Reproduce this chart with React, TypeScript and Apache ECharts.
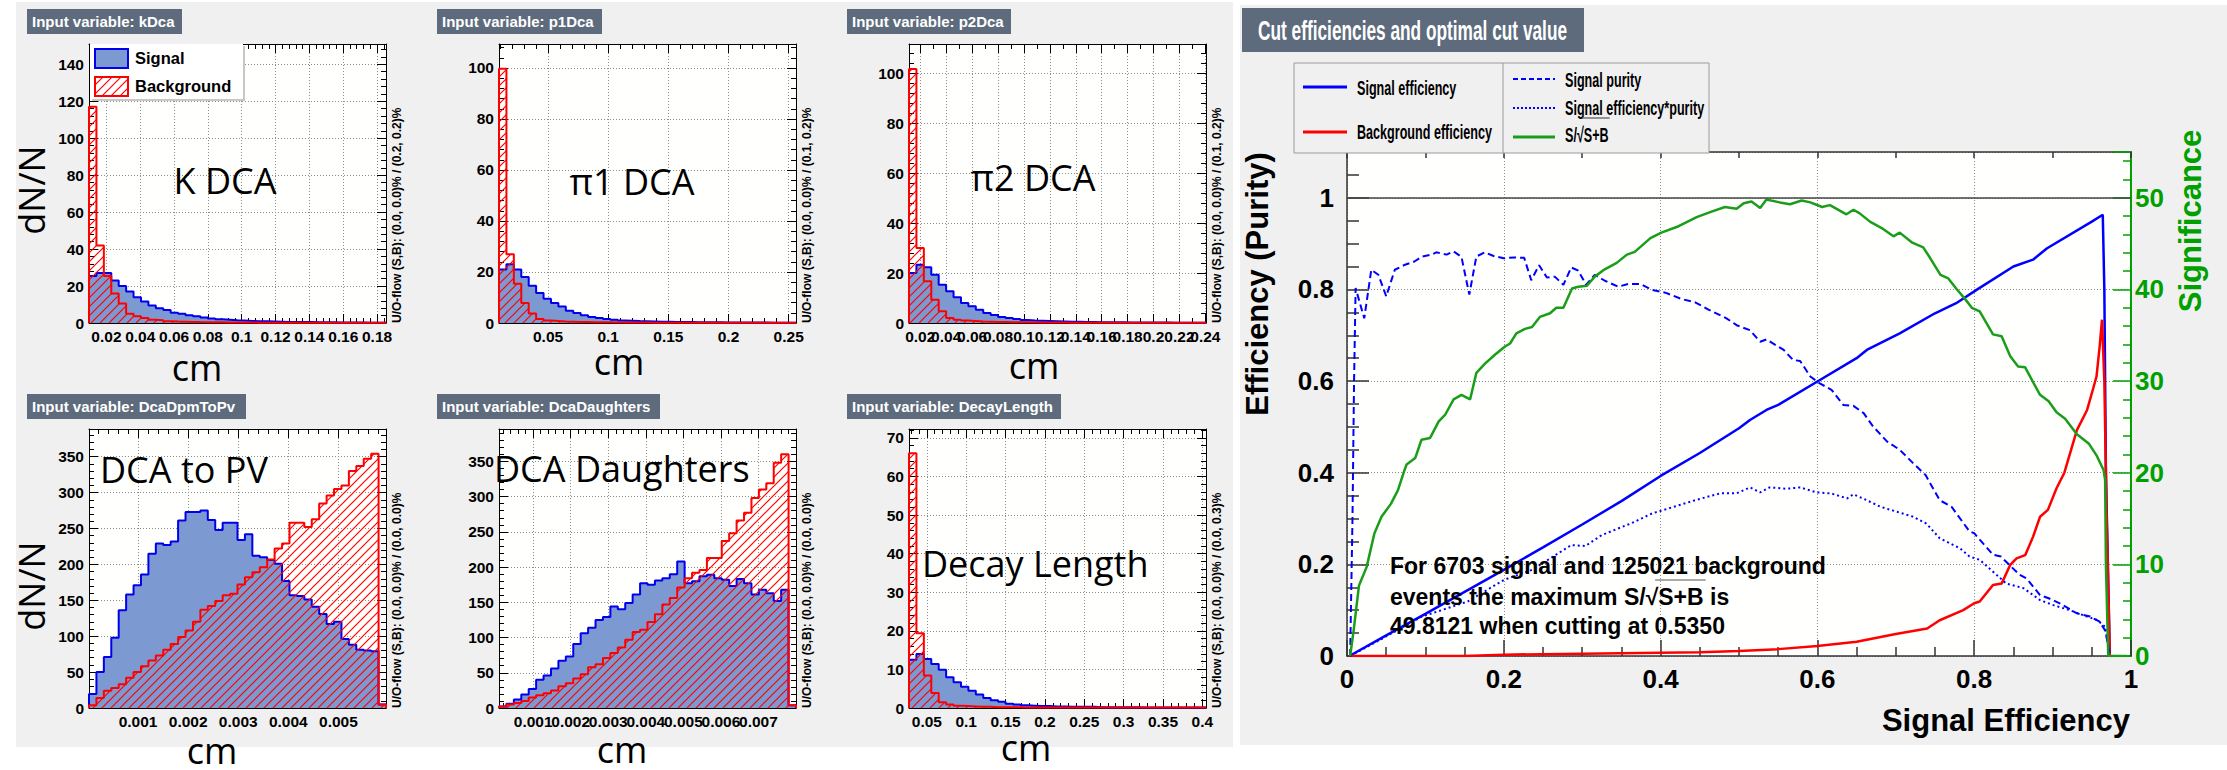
import React, { useEffect, useRef } from "react";
import * as echarts from "echarts";

const W = 2227;
const H = 770;

const ROOT_FONT = '"Liberation Sans", Arial, Helvetica, sans-serif';
const NOTE_FONT = '"Open Sans", "Noto Sans", sans-serif';

const SIGNAL_FILL = "#7d99d1";
const SIGNAL_LINE = "#0000ee";
const BKG_LINE = "#ff0000";
const TITLE_BOX = "#5d6b7d";
const CANVAS_BG = "#f0f0f0";
const GREEN = "#00a000";
const GRID_LINE = "#8c8c8c";

// ---------------- input-variable histograms (40 bins each) ----------------
const kDcaRange = [0.0097, 0.1853];
const kDcaSignal = [25.5, 27, 27, 23, 20, 17, 14, 11.6, 9.5, 8, 7, 5.5, 5, 4.2, 3.6, 3, 2.4, 2, 1.8, 1.5, 1.3, 1.1, 1.0, 0.9, 0.8, 0.7, 0.6, 0.6, 0.5, 0.5, 0.4, 0.4, 0.4, 0.3, 0.3, 0.3, 0.3, 0.2, 0.2, 0.2];
const kDcaBackground = [117, 42, 25.5, 16, 10.5, 5, 3.6, 2.7, 1.8, 1.5, 1.0, 0.8, 0.7, 0.6, 0.5, 0.45, 0.4, 0.35, 0.3, 0.3, 0.25, 0.25, 0.2, 0.2, 0.2, 0.15, 0.15, 0.15, 0.1, 0.1, 0.1, 0.1, 0.1, 0.1, 0.1, 0.1, 0.1, 0.1, 0.1, 0.1];

const p1DcaRange = [0.0092, 0.2561];
const p1DcaSignal = [21, 23, 21, 18, 14.6, 11.8, 9.5, 7.8, 6.5, 4.8, 3.9, 3, 2.4, 2, 1.6, 1.3, 1, 0.9, 0.8, 0.7, 0.6, 0.5, 0.5, 0.4, 0.4, 0.4, 0.3, 0.3, 0.3, 0.3, 0.2, 0.2, 0.2, 0.2, 0.2, 0.2, 0.1, 0.1, 0.1, 0.1];
const p1DcaBackground = [99.7, 27, 15.4, 7.8, 3.7, 1.6, 1, 0.8, 0.6, 0.5, 0.4, 0.4, 0.3, 0.3, 0.3, 0.2, 0.2, 0.2, 0.2, 0.2, 0.1, 0.1, 0.1, 0.1, 0.1, 0.1, 0.1, 0.1, 0.1, 0.1, 0.1, 0.1, 0.1, 0.1, 0.1, 0.1, 0.1, 0.1, 0.1, 0.1];

const p2DcaRange = [0.0113, 0.2405];
const p2DcaSignal = [20, 23.3, 22.3, 19.3, 15.3, 12.7, 10.3, 8, 6.7, 5.3, 4, 3.2, 2.4, 2, 1.6, 1.2, 1, 0.9, 0.8, 0.7, 0.6, 0.5, 0.5, 0.4, 0.4, 0.3, 0.3, 0.3, 0.3, 0.2, 0.2, 0.2, 0.2, 0.2, 0.2, 0.1, 0.1, 0.1, 0.1, 0.1];
const p2DcaBackground = [101.6, 30, 16.7, 9.3, 4.7, 2, 1.3, 1, 0.8, 0.6, 0.5, 0.4, 0.4, 0.3, 0.3, 0.3, 0.2, 0.2, 0.2, 0.2, 0.2, 0.1, 0.1, 0.1, 0.1, 0.1, 0.1, 0.1, 0.1, 0.1, 0.1, 0.1, 0.1, 0.1, 0.1, 0.1, 0.1, 0.1, 0.1, 0.1];

const dcaToPvRange = [0.00002, 0.00595];
const dcaToPvSignal = [19.5, 50, 71, 98, 136, 158, 171, 186, 215, 229, 227, 232, 261, 273, 273, 275, 262, 248, 258, 258, 234, 242, 212, 210, 206, 201, 177, 157, 156, 151, 141, 131, 117, 120, 96, 88, 81, 80, 79, 5];
const dcaToPvBackground = [3.7, 14, 24, 28, 33, 42, 50, 58, 66, 73, 81, 89, 99, 108, 120, 137, 142, 149, 157, 159, 172, 182, 189, 196, 207, 222, 229, 258, 258, 252, 263, 285, 296, 305, 310, 330, 337, 347, 354, 5];

const dcaDaughtersRange = [0.00009, 0.008];
const dcaDaughtersSignal = [2, 6, 12, 19, 27, 40, 46, 56, 67, 73, 91, 106, 114, 125, 129, 144, 140, 149, 161, 177, 175, 181, 184, 190, 208, 177, 180, 187, 189, 184, 182, 173, 183, 177, 161, 168, 163, 152, 168, 4];
const dcaDaughtersBackground = [2, 5, 7, 10, 15, 18, 21, 25, 31, 35, 42, 48, 58, 62, 71, 78, 86, 97, 108, 111, 122, 133, 147, 156, 171, 184, 192, 196, 213, 213, 237, 248, 266, 277, 298, 310, 319, 348, 360, 4];

const decayLengthRange = [0.0273, 0.4047];
const decayLengthSignal = [12.5, 14, 12.7, 11.4, 9.9, 8, 6.7, 5.5, 4.5, 3.5, 2.6, 2, 1.6, 1.1, 0.9, 0.7, 0.6, 0.5, 0.5, 0.4, 0.4, 0.3, 0.3, 0.3, 0.3, 0.2, 0.2, 0.2, 0.2, 0.2, 0.2, 0.1, 0.1, 0.1, 0.1, 0.1, 0.1, 0.1, 0.1, 0.1];
const decayLengthBackground = [66, 19.4, 8.4, 3.9, 1.5, 0.9, 0.6, 0.5, 0.4, 0.3, 0.3, 0.2, 0.2, 0.2, 0.2, 0.1, 0.1, 0.1, 0.1, 0.1, 0.1, 0.1, 0.1, 0.1, 0.1, 0.1, 0.1, 0.1, 0.1, 0.1, 0.1, 0.1, 0.1, 0.1, 0.1, 0.1, 0.1, 0.1, 0.1, 0.1];

const variableNames = ["kDca", "p1Dca", "p2Dca", "DcaDpmToPv", "DcaDaughters", "DecayLength"];
const variableLabels = ["K DCA", "π1 DCA", "π2 DCA", "DCA to PV", "DCA Daughters", "Decay Length"];
const flowTexts = [
  "U/O-flow (S,B): (0.0, 0.0)% / (0.2, 0.2)%",
  "U/O-flow (S,B): (0.0, 0.0)% / (0.1, 0.2)%",
  "U/O-flow (S,B): (0.0, 0.0)% / (0.1, 0.2)%",
  "U/O-flow (S,B): (0.0, 0.0)% / (0.0, 0.0)%",
  "U/O-flow (S,B): (0.0, 0.0)% / (0.0, 0.0)%",
  "U/O-flow (S,B): (0.0, 0.0)% / (0.0, 0.3)%",
];
const ranges = [kDcaRange, p1DcaRange, p2DcaRange, dcaToPvRange, dcaDaughtersRange, decayLengthRange];
const signals = [kDcaSignal, p1DcaSignal, p2DcaSignal, dcaToPvSignal, dcaDaughtersSignal, decayLengthSignal];
const backgrounds = [kDcaBackground, p1DcaBackground, p2DcaBackground, dcaToPvBackground, dcaDaughtersBackground, decayLengthBackground];
const yMaxima = [151, 109.4, 111.6, 388.6, 396, 72.3];
const yTickSteps = [20, 20, 20, 50, 50, 10];
const xTickSteps = [0.02, 0.05, 0.02, 0.001, 0.001, 0.05];
const xMinorDivisions = [5, 5, 2, 5, 5, 5];

// ---------------- cut efficiencies (x = cut value) ----------------
const signalEfficiency = [[0.003, 0], [0.05, 0.045], [0.1, 0.092], [0.15, 0.14], [0.2, 0.188], [0.25, 0.237], [0.3, 0.287], [0.35, 0.338], [0.4, 0.393], [0.45, 0.443], [0.5, 0.497], [0.514, 0.515], [0.535, 0.537], [0.55, 0.548], [0.6, 0.599], [0.65, 0.65], [0.663, 0.668], [0.705, 0.704], [0.75, 0.748], [0.777, 0.77], [0.803, 0.799], [0.85, 0.85], [0.875, 0.865], [0.893, 0.89], [0.95, 0.948], [0.964, 0.963], [0.966, 0.8], [0.968, 0.4], [0.973, 0]];
const backgroundEfficiency = [[0.003, 0], [0.15, 0], [0.2, 0.003], [0.3, 0.005], [0.4, 0.007], [0.45, 0.008], [0.5, 0.011], [0.55, 0.015], [0.6, 0.022], [0.65, 0.031], [0.7, 0.048], [0.74, 0.06], [0.756, 0.078], [0.786, 0.1], [0.8, 0.115], [0.807, 0.119], [0.824, 0.155], [0.835, 0.158], [0.846, 0.199], [0.854, 0.213], [0.865, 0.22], [0.875, 0.26], [0.884, 0.304], [0.894, 0.319], [0.905, 0.366], [0.915, 0.4], [0.931, 0.493], [0.944, 0.537], [0.95, 0.573], [0.956, 0.61], [0.96, 0.675], [0.963, 0.734], [0.966, 0.6], [0.969, 0.3], [0.973, 0]];
const signalPurity = [[0.004, 0], [0.007, 0.3], [0.009, 0.6], [0.011, 0.803], [0.022, 0.737], [0.031, 0.843], [0.04, 0.832], [0.05, 0.785], [0.061, 0.843], [0.074, 0.854], [0.086, 0.861], [0.096, 0.872], [0.108, 0.876], [0.114, 0.881], [0.127, 0.876], [0.136, 0.883], [0.146, 0.871], [0.156, 0.789], [0.165, 0.872], [0.176, 0.881], [0.187, 0.873], [0.2, 0.868], [0.214, 0.87], [0.226, 0.869], [0.235, 0.82], [0.245, 0.853], [0.255, 0.826], [0.265, 0.828], [0.276, 0.81], [0.286, 0.848], [0.295, 0.841], [0.305, 0.81], [0.316, 0.832], [0.329, 0.819], [0.346, 0.806], [0.359, 0.812], [0.374, 0.812], [0.389, 0.799], [0.406, 0.793], [0.427, 0.779], [0.444, 0.772], [0.461, 0.756], [0.484, 0.737], [0.497, 0.722], [0.514, 0.711], [0.527, 0.686], [0.535, 0.691], [0.557, 0.668], [0.569, 0.646], [0.578, 0.644], [0.591, 0.61], [0.603, 0.595], [0.618, 0.581], [0.633, 0.548], [0.646, 0.546], [0.659, 0.53], [0.671, 0.501], [0.689, 0.468], [0.705, 0.45], [0.722, 0.421], [0.738, 0.395], [0.756, 0.34], [0.771, 0.326], [0.794, 0.272], [0.8, 0.268], [0.824, 0.221], [0.834, 0.217], [0.858, 0.177], [0.867, 0.169], [0.884, 0.133], [0.895, 0.126], [0.909, 0.115], [0.931, 0.093], [0.948, 0.086], [0.96, 0.075], [0.967, 0.056], [0.973, 0.005]];
const signalEffTimesPurity = [[0.004, 0], [0.044, 0.037], [0.094, 0.085], [0.154, 0.119], [0.2, 0.166], [0.236, 0.188], [0.286, 0.242], [0.304, 0.24], [0.325, 0.264], [0.363, 0.29], [0.389, 0.311], [0.41, 0.322], [0.444, 0.34], [0.476, 0.355], [0.497, 0.355], [0.514, 0.368], [0.527, 0.357], [0.539, 0.368], [0.561, 0.365], [0.578, 0.368], [0.599, 0.357], [0.617, 0.355], [0.638, 0.344], [0.646, 0.353], [0.663, 0.34], [0.68, 0.326], [0.701, 0.315], [0.722, 0.304], [0.739, 0.289], [0.756, 0.257], [0.782, 0.235], [0.794, 0.217], [0.807, 0.21], [0.824, 0.184], [0.841, 0.158], [0.863, 0.148], [0.884, 0.122], [0.901, 0.111], [0.922, 0.1], [0.939, 0.089], [0.956, 0.079], [0.967, 0.064], [0.973, 0.005]];
const significance = [[0.004, 0], [0.0085, 2.8], [0.0153, 7.7], [0.025, 9.7], [0.035, 13.4], [0.044, 15.2], [0.056, 16.6], [0.065, 18.1], [0.073, 20.2], [0.076, 20.9], [0.087, 21.6], [0.095, 23.6], [0.106, 23.8], [0.117, 25.6], [0.125, 26.3], [0.136, 28], [0.146, 28.5], [0.157, 28], [0.165, 30.9], [0.176, 31.9], [0.189, 32.9], [0.202, 33.8], [0.208, 34.1], [0.216, 35.2], [0.227, 35.7], [0.236, 35.9], [0.246, 37], [0.259, 37.4], [0.267, 38], [0.276, 38], [0.287, 40.1], [0.295, 40.3], [0.306, 40.4], [0.316, 41.4], [0.327, 42.1], [0.344, 42.9], [0.357, 43.8], [0.367, 44.1], [0.387, 45.6], [0.401, 46.2], [0.423, 46.9], [0.446, 47.9], [0.465, 48.5], [0.482, 49], [0.497, 48.8], [0.506, 49.4], [0.516, 49.6], [0.527, 48.9], [0.535, 49.8121], [0.552, 49.5], [0.565, 49.3], [0.58, 49.7], [0.591, 49.5], [0.606, 49], [0.616, 49.2], [0.637, 48.2], [0.646, 48.7], [0.654, 48.3], [0.667, 47.4], [0.682, 46.7], [0.697, 45.8], [0.705, 46.2], [0.721, 45.1], [0.735, 44.6], [0.744, 43.4], [0.757, 41.6], [0.767, 41.2], [0.778, 40], [0.788, 39], [0.797, 38], [0.807, 37.6], [0.824, 35.1], [0.835, 34.9], [0.846, 32.7], [0.856, 31.6], [0.865, 31.5], [0.875, 29.9], [0.884, 28.5], [0.895, 27.8], [0.905, 26.6], [0.916, 25.9], [0.931, 24.2], [0.946, 23.2], [0.956, 21.9], [0.965, 20.3], [0.967, 19.2], [0.968, 10], [0.971, 0], [0.995, 0]];

const nSignalEvents = 6703;
const nBackgroundEvents = 125021;
const maxSignificance = "49.8121";
const optimalCut = "0.5350";

// ---------------- layout ----------------
const panelOrigins = [[0, 0], [410, 0], [820, 0], [0, 385], [410, 385], [820, 385]];
const titleBoxWidths = [155, 165, 164, 219, 223, 214];
const labelAnchors: any[] = [
  { x: 225, y: 180, align: "center" },
  { x: 632, y: 181, align: "center" },
  { x: 1033, y: 177, align: "center" },
  { x: 100, y: 469, align: "left" },
  { x: 494, y: 468, align: "left" },
  { x: 922, y: 563, align: "left" },
];
const unitAnchors = [[197, 367], [619, 361], [1034, 365], [212, 750], [622, 749], [1026, 747]];
const FRAME = { dx: 89, dy: 44, w: 297, h: 279 };
const RIGHT = { left: 1347, top: 152, width: 784, height: 504 };

function histogramOutline(range: number[], counts: number[]) {
  const lo = range[0];
  const hi = range[1];
  const w = (hi - lo) / counts.length;
  const pts: number[][] = [[lo, 0]];
  counts.forEach((c, i) => {
    pts.push([lo + i * w, c], [lo + (i + 1) * w, c]);
  });
  pts.push([hi, 0]);
  return pts;
}

function hatchPattern() {
  const s = 9;
  const cv = document.createElement("canvas");
  cv.width = s;
  cv.height = s;
  const ctx = cv.getContext("2d");
  if (ctx) {
    ctx.strokeStyle = BKG_LINE;
    ctx.lineWidth = 1.2;
    ctx.beginPath();
    ctx.moveTo(-2, s + 2);
    ctx.lineTo(s + 2, -2);
    ctx.moveTo(-2, 2);
    ctx.lineTo(2, -2);
    ctx.moveTo(s - 2, s + 2);
    ctx.lineTo(s + 2, s - 2);
    ctx.stroke();
  }
  return { image: cv.toDataURL(), repeat: "repeat", imageWidth: s, imageHeight: s };
}

const measureCanvas = typeof document !== "undefined" ? document.createElement("canvas") : null;
function textWidth(text: string, font: string) {
  const ctx = measureCanvas && measureCanvas.getContext("2d");
  if (!ctx) return text.length * 10;
  ctx.font = font;
  return ctx.measureText(text).width;
}

function text(x: number, y: number, str: string, font: string, fill: string, align = "left", extra: any = {}) {
  return {
    type: "text",
    x,
    y,
    z: 50,
    silent: true,
    ...extra,
    style: { text: str, font, fill, textAlign: align, textVerticalAlign: "middle" },
  };
}

function rect(x: number, y: number, w: number, h: number, style: any, z = 40) {
  return { type: "rect", z, silent: true, shape: { x, y, width: w, height: h }, style };
}

function seg(x1: number, y1: number, x2: number, y2: number, style: any, z = 55) {
  return { type: "line", z, silent: true, shape: { x1, y1, x2, y2 }, style };
}

const tickStyle = { color: "#000", width: 1 };
const smallLabel = { color: "#000", fontFamily: ROOT_FONT, fontWeight: "bold", fontSize: 15.5 };

function smallXAxis(gridIndex: number, range: number[], step: number, minor: number, position: string) {
  const bottom = position === "bottom";
  return {
    type: "value",
    gridIndex,
    position,
    min: range[0],
    max: range[1],
    minInterval: step,
    maxInterval: step,
    splitNumber: Math.round((range[1] - range[0]) / step),
    axisLine: { show: true, onZero: false, lineStyle: { color: "#000", width: 1 } },
    axisTick: { show: true, inside: true, length: 9, lineStyle: tickStyle },
    minorTick: { show: true, splitNumber: minor, length: 5, lineStyle: tickStyle },
    axisLabel: bottom ? { show: true, margin: 5, showMinLabel: false, showMaxLabel: false, ...smallLabel } : { show: false },
    splitLine: { show: bottom, lineStyle: { color: GRID_LINE, width: 1, type: [1, 2] } },
    minorSplitLine: { show: false },
  };
}

function smallYAxis(gridIndex: number, yMax: number, step: number, position: string) {
  const left = position === "left";
  return {
    type: "value",
    gridIndex,
    position,
    min: 0,
    max: yMax,
    interval: step,
    axisLine: { show: true, onZero: false, lineStyle: { color: "#000", width: 1 } },
    axisTick: { show: true, inside: true, length: 9, lineStyle: tickStyle },
    minorTick: { show: true, splitNumber: 5, length: 5, lineStyle: tickStyle },
    axisLabel: left ? { show: true, margin: 5, showMaxLabel: false, ...smallLabel } : { show: false },
    splitLine: { show: left, lineStyle: { color: GRID_LINE, width: 1, type: [1, 2] } },
    minorSplitLine: { show: false },
  };
}

function buildOption() {
  const hatch = hatchPattern();
  const grid: any[] = [];
  const xAxis: any[] = [];
  const yAxis: any[] = [];
  const series: any[] = [];
  const graphic: any[] = [];

  // canvas backgrounds
  graphic.push(rect(16, 2, 1217, 745, { fill: CANVAS_BG }, -100));
  graphic.push(rect(1240, 5, 987, 740, { fill: CANVAS_BG }, -100));

  variableNames.forEach((name, i) => {
    const [ox, oy] = panelOrigins[i];
    const fx = ox + FRAME.dx;
    const fy = oy + FRAME.dy;
    grid.push({ left: fx, top: fy, width: FRAME.w, height: FRAME.h, show: true, backgroundColor: "#fffffd", borderWidth: 0, outerBoundsMode: "none" });
    xAxis.push(smallXAxis(i, ranges[i], xTickSteps[i], xMinorDivisions[i], "bottom"));
    xAxis.push(smallXAxis(i, ranges[i], xTickSteps[i], xMinorDivisions[i], "top"));
    yAxis.push(smallYAxis(i, yMaxima[i], yTickSteps[i], "left"));
    yAxis.push(smallYAxis(i, yMaxima[i], yTickSteps[i], "right"));

    series.push({
      type: "line",
      name: "Signal",
      xAxisIndex: 2 * i,
      yAxisIndex: 2 * i,
      data: histogramOutline(ranges[i], signals[i]),
      symbol: "none",
      silent: true,
      z: 2,
      lineStyle: { color: SIGNAL_LINE, width: 2 },
      areaStyle: { color: SIGNAL_FILL, opacity: 1 },
    });
    series.push({
      type: "line",
      name: "Background",
      xAxisIndex: 2 * i,
      yAxisIndex: 2 * i,
      data: histogramOutline(ranges[i], backgrounds[i]),
      symbol: "none",
      silent: true,
      z: 3,
      lineStyle: { color: BKG_LINE, width: 2 },
      areaStyle: { color: hatch, opacity: 1 },
    });

    // title box
    graphic.push(rect(ox + 27, oy + 9, titleBoxWidths[i], 25, { fill: TITLE_BOX }));
    graphic.push(text(ox + 32, oy + 21.5, "Input variable: " + name, `bold 15px ${ROOT_FONT}`, "#ffffff"));
    // under/overflow note
    graphic.push(text(fx + FRAME.w + 11, fy + FRAME.h, flowTexts[i], `bold 12px ${ROOT_FONT}`, "#000", "left", { rotation: Math.PI / 2 }));
    // annotations
    const la = labelAnchors[i];
    graphic.push(text(la.x, la.y, variableLabels[i], `36px ${NOTE_FONT}`, "#000", la.align, { z: 60 }));
    graphic.push(text(unitAnchors[i][0], unitAnchors[i][1], "cm", `36px ${NOTE_FONT}`, "#000", "center", { z: 60 }));
  });

  graphic.push(text(31, 190, "dN/N", `36px ${NOTE_FONT}`, "#000", "center", { rotation: Math.PI / 2, z: 60 }));
  graphic.push(text(31, 586, "dN/N", `36px ${NOTE_FONT}`, "#000", "center", { rotation: Math.PI / 2, z: 60 }));

  // legend of the first histogram
  graphic.push(rect(92, 46, 153, 55, { fill: "#c8c8c8" }, 44));
  graphic.push(rect(90, 44, 153, 55, { fill: "#ffffff" }, 45));
  graphic.push(rect(95, 49, 33, 19, { fill: SIGNAL_FILL, stroke: SIGNAL_LINE, lineWidth: 2 }, 46));
  graphic.push(rect(95, 77, 33, 19, { fill: hatch, stroke: BKG_LINE, lineWidth: 2 }, 46));
  graphic.push(text(135, 58, "Signal", `bold 16.5px ${ROOT_FONT}`, "#000"));
  graphic.push(text(135, 86, "Background", `bold 16.5px ${ROOT_FONT}`, "#000"));

  // ---------------- cut efficiency panel ----------------
  const g = 6;
  grid.push({ left: RIGHT.left, top: RIGHT.top, width: RIGHT.width, height: RIGHT.height, show: true, backgroundColor: "#fffffd", borderWidth: 0, outerBoundsMode: "none" });
  const bigLabel = { fontFamily: ROOT_FONT, fontWeight: "bold", fontSize: 26 };
  const dark = { color: "#333", width: 1.5 };
  xAxis.push({
    type: "value", gridIndex: g, position: "bottom", min: 0, max: 1, interval: 0.2,
    axisLine: { show: true, onZero: false, lineStyle: { color: "#333", width: 1.5 } },
    axisTick: { show: true, inside: true, length: 16, lineStyle: dark },
    minorTick: { show: true, splitNumber: 4, length: 9, lineStyle: dark },
    axisLabel: { show: true, margin: 10, color: "#000", ...bigLabel },
    splitLine: { show: true, lineStyle: { color: GRID_LINE, width: 1, type: [1, 2] } },
  });
  xAxis.push({
    type: "value", gridIndex: g, position: "top", min: 0, max: 1, interval: 0.1,
    axisLine: { show: true, onZero: false, lineStyle: { color: "#333", width: 1.5 } },
    axisTick: { show: true, inside: true, length: 6, lineStyle: dark },
    axisLabel: { show: false },
    splitLine: { show: false },
  });
  yAxis.push({
    type: "value", gridIndex: g, position: "left", min: 0, max: 1.1, interval: 0.2,
    axisLine: { show: true, onZero: false, lineStyle: { color: "#333", width: 1.5 } },
    axisTick: { show: true, inside: true, length: 22, lineStyle: dark },
    minorTick: { show: true, splitNumber: 4, length: 12, lineStyle: dark },
    axisLabel: { show: true, margin: 13, color: "#000", showMaxLabel: false, ...bigLabel },
    splitLine: { show: true, lineStyle: { color: GRID_LINE, width: 1, type: [1, 2] } },
  });
  yAxis.push({
    type: "value", gridIndex: g, position: "right", min: 0, max: 55, interval: 10,
    axisLine: { show: true, onZero: false, lineStyle: { color: GREEN, width: 2 } },
    axisTick: { show: true, inside: true, length: 18, lineStyle: { color: GREEN, width: 1.5 } },
    minorTick: { show: true, splitNumber: 5, length: 8, lineStyle: { color: GREEN, width: 1.5 } },
    axisLabel: { show: true, margin: 4, color: GREEN, showMaxLabel: false, ...bigLabel },
    splitLine: { show: false },
  });

  const effLine = (name: string, data: number[][], color: string, type: any, width: number, yIdx = 12) => ({
    type: "line", name, xAxisIndex: 12, yAxisIndex: yIdx, data, symbol: "none", silent: true, z: 4,
    lineStyle: { color, width, type },
  });
  const sigEff: any = effLine("Signal efficiency", signalEfficiency, "#0000ff", "solid", 2.5);
  sigEff.markLine = {
    silent: true, symbol: "none", label: { show: false },
    lineStyle: { color: "#444", width: 1.5, type: "solid" },
    data: [{ yAxis: 1 }],
  };
  series.push(sigEff);
  series.push(effLine("Background efficiency", backgroundEfficiency, "#ff0000", "solid", 2.5));
  series.push(effLine("Signal purity", signalPurity, "#0000ff", [7, 4], 2));
  series.push(effLine("Signal efficiency*purity", signalEffTimesPurity, "#0000ff", [2, 3], 2));
  series.push(effLine("S/√S+B", significance, "#1a9e1a", "solid", 2.5, 13));

  // title
  graphic.push(rect(1242, 8, 342, 44, { fill: TITLE_BOX }));
  graphic.push(text(1258, 30, "Cut efficiencies and optimal cut value", `bold 27px ${ROOT_FONT}`, "#ffffff", "left", { scaleX: 0.64 }));

  // legend
  graphic.push(rect(1294, 63, 415, 90, { fill: CANVAS_BG, stroke: "#9a9a9a", lineWidth: 1 }, 45));
  graphic.push(seg(1503, 63, 1503, 153, { stroke: "#9a9a9a", lineWidth: 1 }, 46));
  const legFont = `bold 21px ${ROOT_FONT}`;
  const legScale = 0.6;
  graphic.push(seg(1303, 87, 1347, 87, { stroke: "#0000ff", lineWidth: 3 }));
  graphic.push(text(1357, 88, "Signal efficiency", legFont, "#000", "left", { scaleX: legScale }));
  graphic.push(seg(1303, 132, 1347, 132, { stroke: "#ff0000", lineWidth: 3 }));
  graphic.push(text(1357, 132, "Background efficiency", legFont, "#000", "left", { scaleX: legScale }));
  graphic.push(seg(1513, 79, 1555, 79, { stroke: "#0000ff", lineWidth: 2, lineDash: [5, 3] }));
  graphic.push(text(1565, 80, "Signal purity", legFont, "#000", "left", { scaleX: legScale }));
  graphic.push(seg(1513, 108, 1555, 108, { stroke: "#0000ff", lineWidth: 2, lineDash: [2, 2] }));
  graphic.push(text(1565, 108, "Signal efficiency*purity", legFont, "#000", "left", { scaleX: legScale }));
  graphic.push(seg(1513, 137, 1555, 137, { stroke: "#1a9e1a", lineWidth: 3 }));
  graphic.push(text(1565, 135, "S/√S+B", legFont, "#000", "left", { scaleX: legScale }));
  {
    const a = 1565 + legScale * (textWidth("S/", legFont) + 0.75 * textWidth("√", legFont));
    const b = 1565 + legScale * textWidth("S/√S+B", legFont) + 1;
    graphic.push(seg(a, 118, b, 118, { stroke: "#555", lineWidth: 1.2 }));
  }

  // optimal cut note
  const noteFont = `bold 23px ${ROOT_FONT}`;
  const line2 = "events the maximum S/√S+B is";
  graphic.push(text(1390, 566, `For ${nSignalEvents} signal and ${nBackgroundEvents} background`, noteFont, "#000"));
  graphic.push(text(1390, 597, line2, noteFont, "#000"));
  graphic.push(text(1390, 626, `${maxSignificance} when cutting at ${optimalCut}`, noteFont, "#000"));
  {
    const a = 1390 + textWidth("events the maximum S/", noteFont) + 0.75 * textWidth("√", noteFont);
    const b = 1390 + textWidth("events the maximum S/√S+B", noteFont) + 2;
    graphic.push(seg(a, 580, b, 580, { stroke: "#555", lineWidth: 1.2 }));
  }

  // axis titles
  graphic.push(text(1257, 284, "Efficiency (Purity)", `bold 31px ${ROOT_FONT}`, "#000", "center", { rotation: Math.PI / 2 }));
  graphic.push(text(2190, 221, "Significance", `bold 31px ${ROOT_FONT}`, GREEN, "center", { rotation: Math.PI / 2 }));
  graphic.push(text(2130, 720, "Signal Efficiency", `bold 31px ${ROOT_FONT}`, "#000", "right"));

  return {
    animation: false,
    backgroundColor: "#ffffff",
    grid,
    xAxis,
    yAxis,
    series,
    graphic: { elements: graphic },
  };
}

export default function App() {
  const ref = useRef<HTMLDivElement>(null);
  useEffect(() => {
    if (!ref.current) return;
    const chart = echarts.init(ref.current, undefined, { renderer: "svg", width: W, height: H });
    chart.setOption(buildOption() as any);
    return () => chart.dispose();
  }, []);
  return <div ref={ref} style={{ position: "fixed", left: 0, top: 0, width: W, height: H, background: "#ffffff" }} />;
}
